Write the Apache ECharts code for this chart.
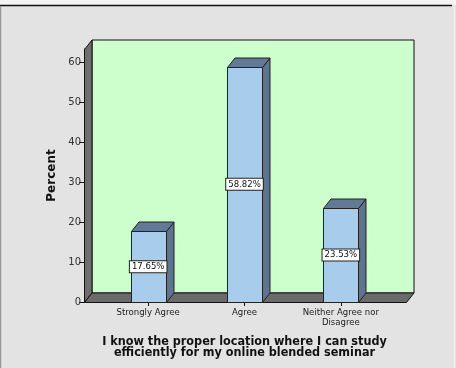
<!DOCTYPE html>
<html>
<head>
<meta charset="utf-8">
<script src="https://cdn.jsdelivr.net/npm/echarts@6/dist/echarts.min.js"></script>
<style>
  html, body { margin: 0; padding: 0; background: #e3e3e3; }
  #chart { width: 456px; height: 368px; }
</style>
</head>
<body>
<div id="chart"></div>
<script>
(function(){

  // data
  const categories = ['Strongly Agree', 'Agree', 'Neither Agree nor\nDisagree']
  const percents = [17.65, 58.82, 23.53]
  const yTicks = [0, 10, 20, 30, 40, 50, 60]
  const yMax = 63.25
  const xTitle = 'I know the proper location where I can study\nefficiently for my online blended seminar'

  // 3d depth offset
  const DX = 7.5
  const DY = -9.5

  const chart = echarts.init(document.getElementById('chart'))

  // walls + floor, drawn from the frame grid rect
  function renderFrame(params, api) {
    const cs = params.coordSys
    const x0 = Math.round(cs.x) + 0.5
    const x1 = Math.round(cs.x + cs.width) + 0.5
    const yT = Math.round(cs.y) + 0.5
    const yB = Math.round(cs.y + cs.height) + 0.5
    const line = { stroke: '#111', lineWidth: 1 }
    return {
      type: 'group',
      children: [
        { type: 'rect', shape: { x: x0 + DX, y: yT + DY, width: x1 - x0, height: yB - yT },
          style: Object.assign({ fill: '#ccffcc' }, line) },
        { type: 'polygon', shape: { points: [[x0, yB], [x0, yT], [x0 + DX, yT + DY], [x0 + DX, yB + DY]] },
          style: Object.assign({ fill: '#6e6e6e' }, line) },
        { type: 'polygon', shape: { points: [[x0, yB], [x1, yB], [x1 + DX, yB + DY], [x0 + DX, yB + DY]] },
          style: Object.assign({ fill: '#6b6b6b' }, line) }
      ]
    }
  }

  function renderBar(params, api) {
    const top = api.coord([api.value(0), api.value(1)])
    const base = api.coord([api.value(0), 0])
    const mid = api.coord([api.value(0), api.value(1) / 2])
    const w = api.size([1, 0])[0] * 0.36
    const l = Math.round(top[0] - w / 2) + 0.5
    const r = Math.round(top[0] + w / 2) + 0.5
    const t = Math.round(top[1]) + 0.5
    const b = Math.round(base[1]) + 0.5
    const line = { stroke: '#222', lineWidth: 1 }
    return {
      type: 'group',
      children: [
        { type: 'polygon', shape: { points: [[r, b], [r, t], [r + DX, t + DY], [r + DX, b + DY]] },
          style: Object.assign({ fill: '#5e7590' }, line) },
        { type: 'polygon', shape: { points: [[l, t], [r, t], [r + DX, t + DY], [l + DX, t + DY]] },
          style: Object.assign({ fill: '#627a96' }, line) },
        { type: 'rect', shape: { x: l, y: t, width: r - l, height: b - t },
          style: Object.assign({ fill: '#a8cdec' }, line) },
        { type: 'text', x: top[0], y: mid[1],
          style: {
            text: api.value(1).toFixed(2) + '%',
            fontFamily: 'DejaVu Sans Condensed', fontSize: 9.5, fill: '#111',
            align: 'center', verticalAlign: 'middle',
            backgroundColor: '#fff', borderColor: '#222', borderWidth: 1,
            padding: [1, 2, 0, 2]
          } }
      ]
    }
  }

  const option = {
    backgroundColor: '#e3e3e3',
    animation: false,
    textStyle: { fontFamily: 'DejaVu Sans' },
    graphic: [
      { type: 'rect', shape: { x: 0, y: 0, width: 456, height: 5 }, style: { fill: '#f4f4f4' } },
      { type: 'line', shape: { x1: 0, y1: 5.5, x2: 452, y2: 5.5 }, style: { stroke: '#111', lineWidth: 1.5 } },
      { type: 'line', shape: { x1: 0.5, y1: 6, x2: 0.5, y2: 368 }, style: { stroke: '#999', lineWidth: 1.5 } },
      { type: 'line', shape: { x1: 454.5, y1: 6, x2: 454.5, y2: 368 }, style: { stroke: '#f2f2f2', lineWidth: 1 } }
    ],
    grid: [
      { left: 84, right: 50, top: 49, bottom: 66 },
      { left: 100, right: 67, top: 49, bottom: 66 }
    ],
    xAxis: [
      { gridIndex: 0, type: 'value', min: 0, max: 1, show: false },
      {
        gridIndex: 1, type: 'category', data: categories,
        axisLine: { show: false },
        axisTick: { show: true, alignWithLabel: true, length: 4, lineStyle: { color: '#111' } },
        axisLabel: { fontFamily: 'DejaVu Sans Condensed', fontSize: 9.5, color: '#222', margin: 6, lineHeight: 10, interval: 0 },
        name: xTitle, nameLocation: 'middle', nameGap: 34,
        nameTextStyle: { fontFamily: 'DejaVu Sans Condensed', fontWeight: 'bold', fontSize: 12.5, color: '#111', lineHeight: 11 }
      }
    ],
    yAxis: [
      {
        gridIndex: 0, type: 'value', min: 0, max: yMax,
        splitLine: { show: false },
        axisLine: { show: true, lineStyle: { color: '#111' } },
        axisTick: { show: true, length: 5, customValues: yTicks, lineStyle: { color: '#111' } },
        axisLabel: { customValues: yTicks, fontSize: 10, color: '#333', margin: 3 },
        name: 'Percent', nameLocation: 'middle', nameGap: 21,
        nameTextStyle: { fontWeight: 'bold', fontSize: 12, color: '#111' }
      },
      { gridIndex: 1, type: 'value', min: 0, max: yMax, show: false }
    ],
    series: [
      {
        type: 'custom', xAxisIndex: 0, yAxisIndex: 0, z: 1,
        data: [[0, 0]], renderItem: renderFrame, silent: true
      },
      {
        type: 'custom', xAxisIndex: 1, yAxisIndex: 1, z: 3,
        data: percents.map((v, i) => [i, v]), renderItem: renderBar
      }
    ]
  }

  chart.setOption(option)
  window.addEventListener('resize', () => { chart.resize() })
})()
</script>
</body>
</html>
